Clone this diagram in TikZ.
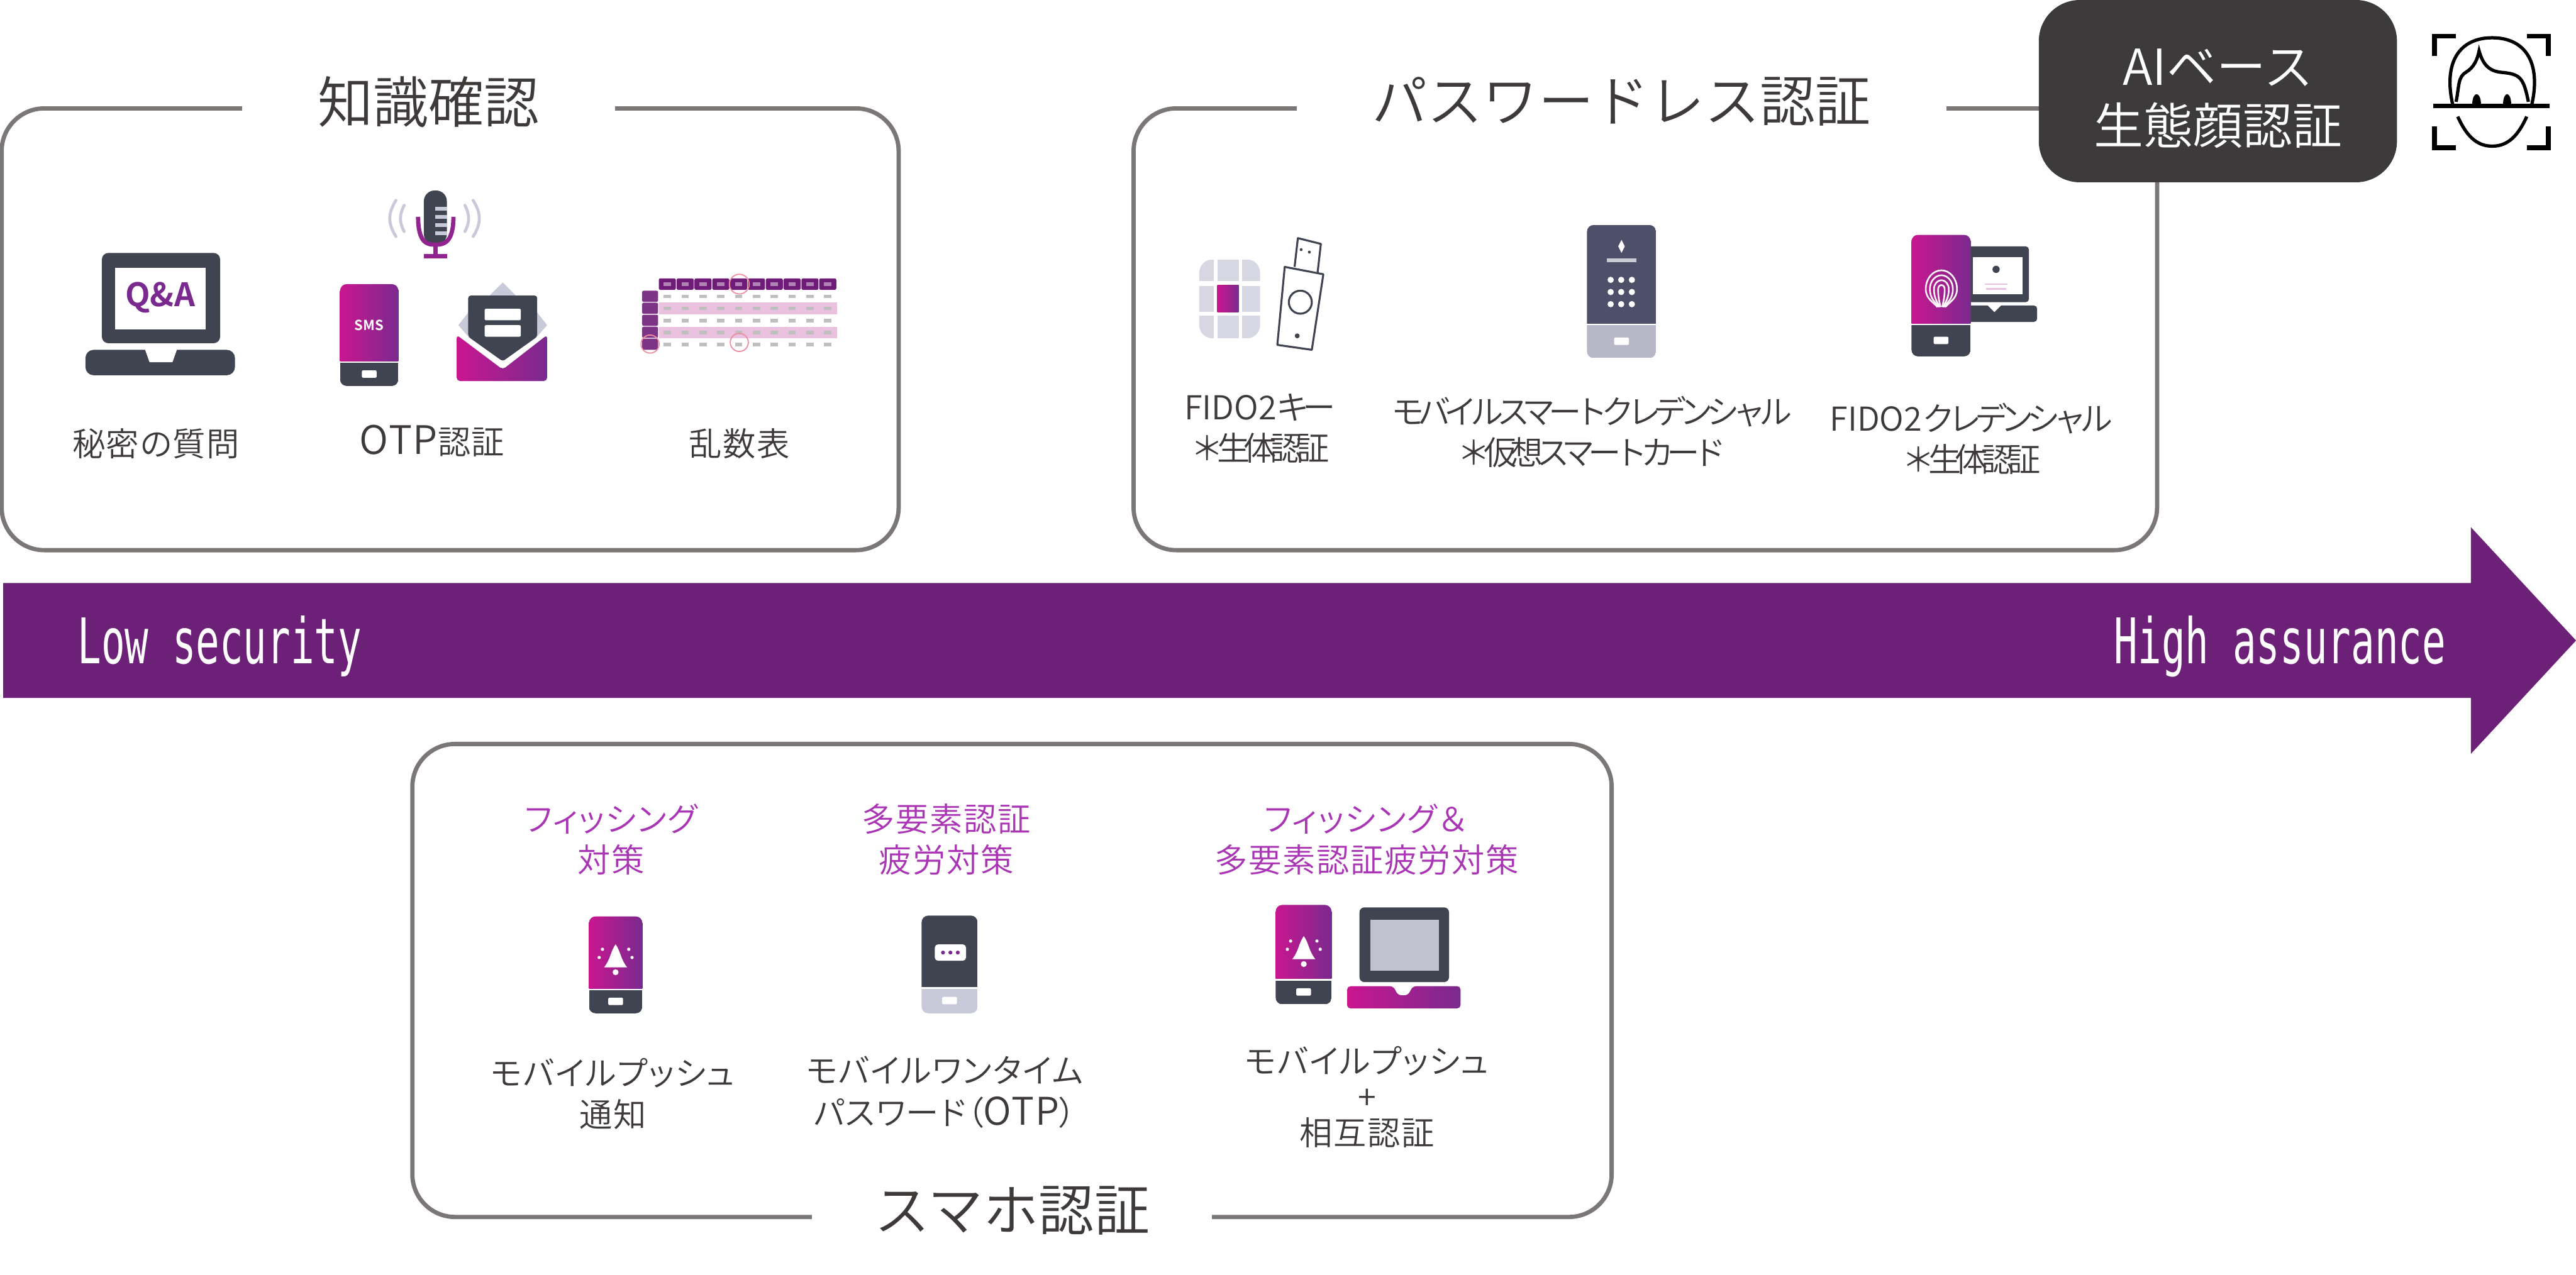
\documentclass[tikz,border=0pt]{standalone}
\usepackage{fontspec}
\newfontfamily\jpfont[UprightFont={* DemiLight},BoldFont={* Bold}]{Noto Sans CJK JP}
\newfontfamily\jpkern[UprightFont={* DemiLight},RawFeature={+palt},LetterSpace=3]{Noto Sans CJK JP}
\newfontfamily\jptight[UprightFont={* DemiLight},LetterSpace=-20]{Noto Sans CJK JP}
\newfontfamily\monoarrow[FakeStretch=0.625]{DejaVu Sans Mono}
\definecolor{panelgray}{HTML}{7B7776}
\definecolor{inkdark}{HTML}{3E3A39}
\definecolor{boxdark}{HTML}{3C3A3B}
\definecolor{arrowpurple}{HTML}{6D2077}
\definecolor{tagpurple}{HTML}{A935B5}
\definecolor{iconpink}{HTML}{C9168F}
\definecolor{iconpurple}{HTML}{7A2A8F}
\definecolor{icondark}{HTML}{3F4450}
\definecolor{iconlight}{HTML}{C9CAD9}
\definecolor{keydark}{HTML}{4E4F69}
\definecolor{keylight}{HTML}{B7B7C7}
\definecolor{tablehead}{HTML}{6F1C78}
\definecolor{tableband}{HTML}{EBC1E0}
\definecolor{tablering}{HTML}{F08CA0}
\tikzset{
  panelbox/.style={draw=panelgray,line width=2.6mm,rounded corners=26mm},
  paneltitle/.style={fill=white,inner xsep=46mm,inner ysep=2mm,text=inkdark,font=\jpfont\fontsize{96}{110}\selectfont},
  labeltext/.style={text=inkdark,align=center,font=\jpkern\fontsize{57}{72}\selectfont},
  tighttext/.style={text=inkdark,align=center,font=\jptight\fontsize{57}{71}\selectfont},
  tagtext/.style={text=tagpurple,align=center,font=\jpkern\fontsize{57}{71}\selectfont},
  arrowtext/.style={text=white,font=\monoarrow\fontsize{109}{120}\selectfont},
  pinkfade/.style={left color=iconpink,right color=iconpurple},
  darkfill/.style={fill=icondark},
  keyfill/.style={fill=keydark},
  greyfill/.style={fill=keylight},
  paleline/.style={draw=iconlight,line width=1.8mm,line cap=round},
  faceline/.style={draw=black,line width=2mm},
  usbline/.style={draw=icondark,line join=round,line width=1.2mm},
  micline/.style={draw=iconpurple!70!iconpink,line width=2.6mm},
  printline/.style={draw=white!85!tableband,line width=1mm},
}
\newcommand{\handset}[7]{%
  \begin{scope}
    \clip[rounded corners=4mm] (#1,#3) rectangle (#2,#5);
    \path[#6] (#1,#3) rectangle (#2,#4);
    \path[#7] (#1,#4+1) rectangle (#2,#5);
  \end{scope}
  \fill[white,rounded corners=.8mm] ({(#1+#2)/2-4.5},{(#4+#5)/2-2}) rectangle ++(9,4.5);
}
\newcommand{\bellmark}[2]{%
  \fill[white] (#1,#2-8) .. controls (#1+3,#2-4) and (#1+3,#2+1) .. (#1+7,#2+6) -- (#1-7,#2+6) .. controls (#1-3,#2+1) and (#1-3,#2-4) .. (#1,#2-8) -- cycle;
  \fill[white] (#1,#2+9) circle (1.8);
  \foreach \s in {-1,1} {
    \fill[white] (#1+\s*8,#2-5) circle (1);
    \fill[white] (#1+\s*10,#2) circle (1);
  }
}
\begin{document}
\begin{tikzpicture}[x=1mm,y=-1mm]
  \useasboundingbox (0,0) rectangle (1568,776);

  % panels
  \draw[panelbox] (1,66) rectangle (547,335);
  \draw[panelbox] (690,66) rectangle (1313,335);
  \draw[panelbox] (251,453) rectangle (981,741);
  \node[paneltitle] (knowtitle) at (261,62) {知識確認};
  \node[paneltitle] (passtitle) at (987,62) {パスワードレス認証};
  \node[paneltitle,inner xsep=38mm] (phonetitle) at (616,737) {スマホ認証};

  % arrow
  \fill[arrowpurple] (2,355) -- (1504,355) -- (1504,321) -- (1568,390) -- (1504,459) -- (1504,425) -- (2,425) -- cycle;
  \node[arrowtext,anchor=west] (lowtext) at (46,393.5) {Low security};
  \node[arrowtext,anchor=east] (hightext) at (1490,393.5) {High assurance};

  % ai box and face
  \node[fill=boxdark,rounded corners=25mm,minimum width=218mm,minimum height=111mm,inner sep=0] (aibox) at (1350,55.5) {};
  \node[text=white,align=center,font=\jpfont\fontsize{86}{103}\selectfont] (aitext) at (1350,60) {AIベース\\生態顔認証};
  \draw[line width=3mm] (1482,34) -- (1482,22) -- (1495,22) (1538,22) -- (1551,22) -- (1551,34);
  \draw[line width=3mm] (1482,77) -- (1482,90) -- (1495,90) (1538,90) -- (1551,90) -- (1551,77);
  \draw[line width=3mm] (1481,64.5) -- (1552,64.5);
  \draw[faceline] (1493,64) .. controls (1487,38) and (1497,23) .. (1517,23) .. controls (1537,23) and (1547,38) .. (1541,64);
  \draw[faceline] (1496,71) .. controls (1501,82) and (1507,89) .. (1517,89) .. controls (1527,89) and (1533,82) .. (1538,71);
  \draw[faceline] (1495,62) .. controls (1497,52) and (1496,47) .. (1501,44) .. controls (1506,41) and (1508,36) .. (1509,31) .. controls (1511,38) and (1514,43) .. (1522,44) .. controls (1534,45) and (1536,47) .. (1539,62);
  \fill (1505,64) .. controls (1505,55) and (1510,55) .. (1510,64) -- cycle;
  \fill (1523.5,64) .. controls (1523.5,55) and (1528.5,55) .. (1528.5,64) -- cycle;

  % knowledge labels
  \node[labeltext] (qalabel) at (95,270) {秘密の質問};
  \node[labeltext] (otplabel) at (263,268.5) {{\fontsize{68}{72}\selectfont OTP}認証};
  \node[labeltext] (randlabel) at (450,270) {乱数表};

  % laptop q&a
  \fill[icondark,rounded corners=4mm] (62,154) rectangle (134,209);
  \fill[white] (70,163) rectangle (125,200.5);
  \fill[icondark,rounded corners=5mm] (52,213) rectangle (143,228.5);
  \fill[white] (88,212) -- (108,212) -- (105,220.5) -- (91,220.5) -- cycle;
  \node[text=iconpurple,font=\jpfont\bfseries\fontsize{56}{60}\selectfont,inner sep=0] (qatext) at (97.5,181) {Q\&A};

  % mic
  \draw[paleline] (241,122) .. controls (236,130) and (236,136) .. (241,144);
  \draw[paleline] (246,125) .. controls (243,131) and (243,135) .. (246,141);
  \draw[paleline] (288,122) .. controls (293,130) and (293,136) .. (288,144);
  \draw[paleline] (283,125) .. controls (286,131) and (286,135) .. (283,141);
  \fill[icondark,rounded corners=6.5mm] (258,116) rectangle (272,149);
  \foreach \y in {126,131,136,141} \fill[iconlight] (265,\y) rectangle (272,\y+2.2);
  \draw[micline] (254.5,132) .. controls (254.5,148) and (260,149) .. (265,149) .. controls (270,149) and (276,148) .. (276,132);
  \draw[micline] (265,149) -- (265,156) (258,156) -- (272,156);

  % sms phone
  \handset{207}{242.5}{173}{220}{235}{pinkfade}{darkfill}
  \node[text=white,font=\jpfont\bfseries\fontsize{24}{26}\selectfont,inner sep=0] (smstext) at (224.7,198) {SMS};

  % envelope
  \fill[iconlight] (306,172) -- (296,182) -- (316,182) -- cycle;
  \fill[iconlight] (279,198) -- (286,189) -- (286,206) -- cycle;
  \fill[iconlight] (333,198) -- (326,189) -- (326,206) -- cycle;
  \fill[icondark,rounded corners=1.5mm] (285,180) -- (327,180) -- (327,205) -- (306,220) -- (285,205) -- cycle;
  \fill[white,rounded corners=.8mm] (295,188) rectangle (317,195);
  \fill[white,rounded corners=.8mm] (295,198) rectangle (317,205);
  \shade[pinkfade,rounded corners=2mm] (278,204) -- (306,225) -- (333,204) -- (333,232) -- (278,232) -- cycle;

  % random table
  \foreach \c in {0,...,9} {
    \fill[tablehead,rounded corners=1mm] ({401+\c*10.85},169.5) rectangle ++(10.4,7);
  }
  \foreach \r in {0,...,4} {
    \fill[tablehead!90,rounded corners=1mm] (390.8,{177+\r*7.3}) rectangle ++(9.8,6.8);
  }
  \foreach \r in {1,3} {
    \fill[tableband] (401,{177+\r*7.3}) rectangle (509.5,{184+\r*7.3});
  }
  \foreach \c in {0,...,9} {
    \fill[white!45!tablehead] ({404+\c*10.85},172) rectangle ++(4.4,2);
    \foreach \r in {0,...,4} {
      \fill[black!25] ({404+\c*10.85},{179.4+\r*7.3}) rectangle ++(4.4,2.2);
    }
  }
  \draw[tablering,line width=.7mm] (450,173) circle (6);
  \draw[tablering,line width=.7mm] (450,208.5) circle (5.5);
  \draw[tablering,line width=.7mm] (395.7,209.5) circle (5.5);

  % fido key icon
  \begin{scope}
    \clip[rounded corners=8mm] (730,158) rectangle (767,206);
    \foreach \x/\w in {730/9,741/13,756/11} {
      \foreach \y/\h in {158/13,174/16,192/14} {
        \fill[iconlight!75] (\x,\y) rectangle ++(\w,\h);
      }
    }
  \end{scope}
  \shade[pinkfade] (741,173.5) rectangle (754,190);
  \draw[usbline] (788,162.5) -- (790,145) -- (804,148.5) -- (802,166);
  \fill[icondark] (792,152) circle (.9) (797,153.5) circle (.9);
  \draw[usbline,fill=white] (782,162.5) -- (805.5,167) -- (798.5,213) -- (777.5,210) -- cycle;
  \draw[usbline] (791.5,184) circle (7);
  \fill[icondark] (789.6,204.5) circle (1.5);

  % smart credential icon
  \handset{966}{1008}{137}{197}{218}{keyfill}{greyfill}
  \fill[white] (987,146) -- (989,150) -- (987,154) -- (985,150) -- cycle;
  \fill[white!70!keydark] (978,157.5) rectangle (996,159.5);
  \foreach \x in {980.4,986.8,993.3} {
    \foreach \y in {170.4,177.8,185.2} {
      \fill[white] (\x,\y) circle (1.9);
    }
  }

  % fido credential icon
  \fill[icondark,rounded corners=2mm] (1195,150) rectangle (1235,184);
  \fill[white] (1201,156.5) rectangle (1231,179);
  \fill[icondark] (1215,164) circle (2.2);
  \draw[tableband,line width=1mm] (1208,173) -- (1222,173) (1209,176) -- (1221,176);
  \fill[icondark,rounded corners=2mm] (1198,186) rectangle (1240,196);
  \fill[white] (1209,185) -- (1219,185) -- (1214,190) -- cycle;
  \handset{1163.5}{1199.5}{143}{197}{217}{pinkfade}{darkfill}
  \foreach \r in {2,4.5,7,9.5} {
    \draw[printline] (1181.7-\r,176) arc[start angle=180,end angle=360,x radius=\r,y radius=\r*1.2];
    \draw[printline] (1181.7-\r,176) .. controls (1181.7-\r,182) and (1181.7-\r/2,184) .. (1181.7-\r/4,187);
    \draw[printline] (1181.7+\r,176) .. controls (1181.7+\r,182) and (1181.7+\r/2,184) .. (1181.7+\r/4,187);
  }

  % password labels
  \node[tighttext] (fidolabel) at (767,261) {{\jpfont FIDO2}キー\\＊生体認証};
  \node[tighttext] (cardlabel) at (969,263) {モバイルスマートクレデンシャル\\＊仮想スマートカード};
  \node[tighttext] (credlabel) at (1200,267) {{\jpfont FIDO2}クレデンシャル\\＊生体認証};

  % smartphone tags
  \node[tagtext] (tagphish) at (372,511) {フィッシング\\対策};
  \node[tagtext] (tagfatigue) at (576,511) {多要素認証\\疲労対策};
  \node[tagtext] (tagboth) at (832,511) {フィッシング{\jpfont ＆}\\多要素認証疲労対策};

  % push phone
  \handset{358.5}{391}{558}{602}{617}{pinkfade}{darkfill}
  \bellmark{374.7}{583}

  % otp phone
  \handset{561}{595}{557.5}{601}{617}{darkfill}{fill=iconlight}
  \fill[white,rounded corners=2mm] (569,575) rectangle (588,585);
  \foreach \x in {574,578.5,583} \fill[iconpurple] (\x,580) circle (1.2);

  % push and laptop
  \handset{776.5}{810.5}{551}{596}{611.5}{pinkfade}{darkfill}
  \bellmark{793.6}{578}
  \fill[icondark,rounded corners=3mm] (827.5,552.5) rectangle (882,598);
  \fill[keylight!85] (834,560) rectangle (876,591);
  \shade[pinkfade,rounded corners=2mm] (820,600.5) -- (848,600.5) -- (851,606) -- (857,606) -- (860,600.5) -- (889,600.5) -- (889,614) -- (820,614) -- cycle;

  % smartphone labels
  \node[labeltext] (pushlabel) at (373,666) {モバイルプッシュ\\通知};
  \node[labeltext] (otppluslabel) at (575,665) {モバイルワンタイム\\パスワード（{\fontsize{66}{72}\selectfont OTP}）};
  \node[labeltext,font=\jpkern\fontsize{57}{62}\selectfont] (mutuallabel) at (832,668) {モバイルプッシュ\\+\\相互認証};
\end{tikzpicture}
\end{document}
